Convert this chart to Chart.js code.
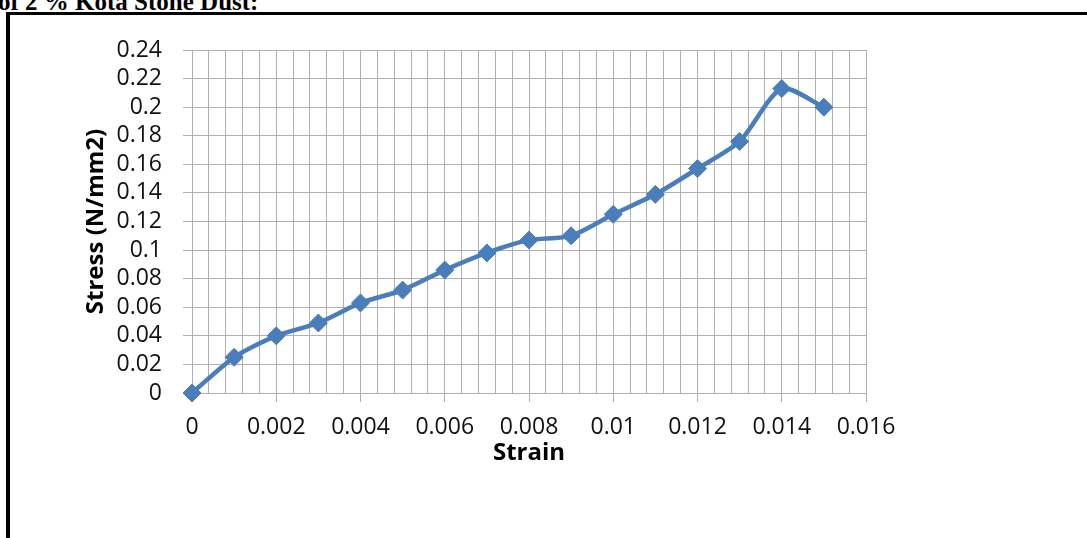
<!DOCTYPE html>
<html>
<head>
<meta charset="utf-8">
<script src="https://cdn.jsdelivr.net/npm/chart.js@4/dist/chart.umd.min.js"></script>
<style>
  html, body { margin: 0; padding: 0; width: 1087px; height: 538px; overflow: hidden; background: #fff; }
  #caption {
    position: absolute; left: -2px; top: -11px;
    font: bold 25px/25px "Liberation Serif", "DejaVu Serif", serif;
    color: #000; white-space: nowrap;
  }
  #frame {
    position: absolute; left: 6px; top: 12px; width: 1200px; height: 700px;
    border-left: 4px solid #000; border-top: 3px solid #000;
  }
  #chart { position: absolute; left: 0; top: 0; }
</style>
</head>
<body>
<div id="caption">of 2 % Kota Stone Dust:</div>
<div id="frame"></div>
<canvas id="chart" width="1087" height="538"></canvas>
<script>
// Stress–strain readings
const strain = [0, 0.001, 0.002, 0.003, 0.004, 0.005, 0.006, 0.007, 0.008, 0.009, 0.010, 0.011, 0.012, 0.013, 0.014, 0.015];
const stress = [0, 0.025, 0.040, 0.049, 0.063, 0.072, 0.086, 0.098, 0.107, 0.110, 0.125, 0.139, 0.157, 0.176, 0.213, 0.200];

// Axis ranges and steps
const xRange = { min: 0, max: 0.016, major: 0.002, minor: 0.0004 };
const yRange = { min: 0, max: 0.24, step: 0.02 };

const GRID = '#b0b0b0';
const SERIES = '#4a7ebb';
const tickFont = { family: "'Open Sans', 'Liberation Sans', sans-serif", size: 23 };
const titleFont = { family: "'Open Sans', 'Liberation Sans', sans-serif", size: 24, weight: 'bold' };

const isMajorX = v => Math.abs(v / xRange.major - Math.round(v / xRange.major)) < 1e-6;

new Chart(document.getElementById('chart'), {
  type: 'line',
  data: {
    datasets: [{
      label: 'Stress',
      data: strain.map((x, i) => ({ x, y: stress[i] })),
      borderColor: SERIES,
      backgroundColor: SERIES,
      borderWidth: 4.5,
      tension: 0.25,
      pointStyle: 'rectRot',
      pointRadius: 9,
      pointHoverRadius: 9,
      pointBorderWidth: 1,
      pointBackgroundColor: SERIES,
      pointBorderColor: SERIES,
      clip: false
    }]
  },
  options: {
    responsive: false,
    animation: false,
    devicePixelRatio: 1,
    layout: { padding: { left: 0, top: 50, right: 221, bottom: 65 } },
    plugins: { legend: { display: false }, tooltip: { enabled: false } },
    scales: {
      x: {
        type: 'linear',
        min: xRange.min,
        max: xRange.max,
        afterFit: s => { s.height = 80; },
        afterBuildTicks: s => {
          const t = [];
          const n = Math.round((xRange.max - xRange.min) / xRange.minor);
          for (let i = 0; i <= n; i++) t.push({ value: +(xRange.min + i * xRange.minor).toFixed(6) });
          s.ticks = t;
        },
        ticks: {
          autoSkip: false,
          maxRotation: 0,
          padding: 12,
          color: '#111',
          font: tickFont,
          callback: v => isMajorX(v) ? String(+v.toFixed(4)) : ''
        },
        grid: {
          color: GRID,
          lineWidth: 1,
          tickLength: 9,
          tickColor: ctx => (ctx.tick && isMajorX(ctx.tick.value)) ? GRID : 'rgba(0,0,0,0)'
        },
        border: { color: GRID, width: 1 },
        title: { display: true, text: 'Strain', color: '#000', font: titleFont, padding: { top: 0, bottom: 5 } }
      },
      y: {
        type: 'linear',
        min: yRange.min,
        max: yRange.max,
        afterFit: s => { s.width = 192; },
        ticks: {
          stepSize: yRange.step,
          autoSkip: false,
          padding: 21,
          color: '#111',
          font: tickFont,
          callback: v => String(+v.toFixed(2))
        },
        grid: { color: GRID, lineWidth: 1, tickLength: 9, tickColor: GRID },
        border: { color: GRID, width: 1 },
        title: { display: true, text: 'Stress (N/mm2)', color: '#000', font: titleFont, padding: { top: 82, bottom: 0 } }
      }
    }
  }
});
</script>
</body>
</html>
